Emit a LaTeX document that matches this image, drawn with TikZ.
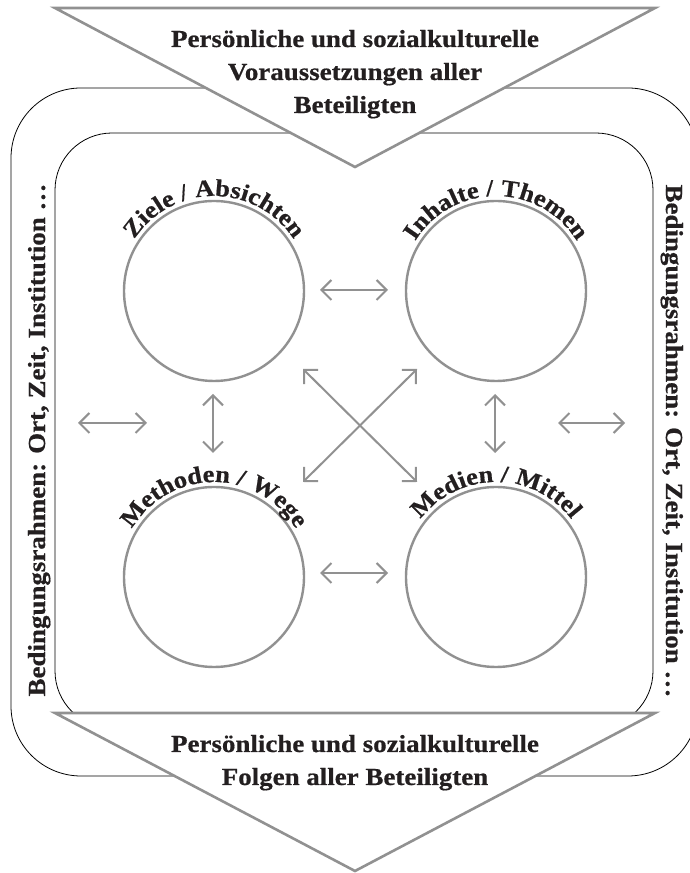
\documentclass[tikz,border=0pt]{standalone}
\usepackage{fontspec}
\setmainfont{Liberation Serif}[FakeStretch=1.1, BoldFeatures={FakeBold=0.6}]
\usetikzlibrary{arrows.meta,decorations.text}
\definecolor{lg}{RGB}{145,145,145}
\definecolor{ink}{RGB}{35,31,32}
\newcommand\circlabfont{\bfseries\fontsize{24}{28}\selectfont}
\begin{document}
\begin{tikzpicture}[x=1pt,y=1pt,
  tri/.style={draw=lg, line width=2.6pt, fill=white, line join=miter},
  frame/.style={draw=black, line width=0.8pt, rectangle, inner sep=0pt},
  circ/.style={circle, draw=lg, line width=2.4pt, minimum size=180pt, inner sep=0pt},
  conn/.style={draw=lg, line width=2pt, {Straight Barb[length=10pt,width=20pt]}-{Straight Barb[length=10pt,width=20pt]}},
  titletext/.style={font=\bfseries\fontsize{24.5}{33}\selectfont, text=ink, anchor=base, inner sep=0pt},
  sidetext/.style={font=\bfseries\fontsize{24.5}{27}\selectfont, text=ink, anchor=base, inner sep=0pt},
  arclabel/.style={decorate, decoration={text along path, text={|\circlabfont|#1}, text align=center, text color=ink}},
]
\useasboundingbox (0,0) rectangle (690,873);
\fill[white] (0,0) rectangle (690,873);

% frames
\node[frame, rounded corners=70pt, minimum width=687pt, minimum height=688pt] (outer) at (354.5,441) {};
\node[frame, rounded corners=57pt, minimum width=598pt, minimum height=595pt] (inner) at (354,442.5) {};

% triangles
\draw[tri] (55,865) -- (655,865) -- (355,706) -- cycle;
\draw[tri] (55,160) -- (655,160) -- (355,2) -- cycle;

% triangle texts
\node[titletext] (t1) at (355,826) {Persönliche und sozialkulturelle};
\node[titletext] (t2) at (355,793) {Voraussetzungen aller};
\node[titletext] (t3) at (355,760) {Beteiligten};
\node[titletext] (b1) at (355,121) {Persönliche und sozialkulturelle};
\node[titletext] (b2) at (355,88) {Folgen aller Beteiligten};

% side texts
\node[sidetext, rotate=90] (sl) at (45,433) {Bedingungsrahmen: Ort, Zeit, Institution …};
\node[sidetext, rotate=-90] (sr) at (666,432) {Bedingungsrahmen: Ort, Zeit, Institution …};

% circles
\node[circ] (ziele) at (214,582) {};
\node[circ] (inhalte) at (496,582) {};
\node[circ] (methoden) at (214,296) {};
\node[circ] (medien) at (496,296) {};

\path[arclabel={Ziele / Absichten}] ([shift={(180:95)}]ziele.center) arc[start angle=180, end angle=0, radius=95];
\path[arclabel={Inhalte / Themen}] ([shift={(180:95)}]inhalte.center) arc[start angle=180, end angle=0, radius=95];
\path[arclabel={Methoden / Wege}] ([shift={(180:95)}]methoden.center) arc[start angle=180, end angle=0, radius=95];
\path[arclabel={Medien / Mittel}] ([shift={(180:95)}]medien.center) arc[start angle=180, end angle=0, radius=95];

% arrow endpoints
\coordinate (h1a) at (320,583); \coordinate (h1b) at (388,583);
\coordinate (h2a) at (320,300); \coordinate (h2b) at (388,300);
\coordinate (v1a) at (213,479); \coordinate (v1b) at (213,420);
\coordinate (v2a) at (495,479); \coordinate (v2b) at (495,420);
\coordinate (o1a) at (78,450);  \coordinate (o1b) at (147,450);
\coordinate (o2a) at (558,450); \coordinate (o2b) at (625,450);
\coordinate (d1a) at (303,504); \coordinate (d1b) at (417,391);
\coordinate (d2a) at (417,504); \coordinate (d2b) at (303,391);

\draw[conn] (h1a) -- (h1b);
\draw[conn] (h2a) -- (h2b);
\draw[conn] (v1a) -- (v1b);
\draw[conn] (v2a) -- (v2b);
\draw[conn] (o1a) -- (o1b);
\draw[conn] (o2a) -- (o2b);
\draw[conn] (d1a) -- (d1b);
\draw[conn] (d2a) -- (d2b);
\end{tikzpicture}
\end{document}
